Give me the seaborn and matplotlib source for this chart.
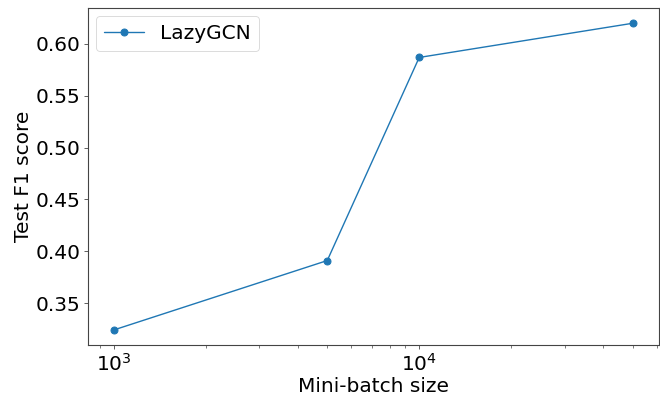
import numpy as np
import pandas as pd
import seaborn as sns
import matplotlib
matplotlib.use("Agg")
import matplotlib.pyplot as plt

batch_sizes = [1000, 5000, 10000, 50000]
f1_scores = [0.324, 0.391, 0.587, 0.620]
series_name = "LazyGCN"

df = pd.DataFrame({"Mini-batch size": batch_sizes, "Test F1 score": f1_scores})

sns.set_style("ticks", rc={"axes.edgecolor": "#444444", "axes.labelcolor": "black",
                           "xtick.color": "#444444", "ytick.color": "#444444",
                           "text.color": "black", "axes.linewidth": 0.7})
plt.rcParams['font.family'] = ['DejaVu Sans']
fs = 14.5
plt.rcParams['xtick.major.pad'] = 2.5
plt.rcParams['ytick.major.pad'] = 2.5
plt.rcParams['xtick.major.size'] = 3
plt.rcParams['ytick.major.size'] = 3
plt.rcParams['xtick.minor.size'] = 1.8
plt.rcParams['xtick.major.width'] = 0.6
plt.rcParams['ytick.major.width'] = 0.6
plt.rcParams['xtick.minor.width'] = 0.5
plt.rcParams['axes.labelpad'] = 1.5

fig, ax = plt.subplots(figsize=(6.6, 3.96), dpi=100)
sns.lineplot(data=df, x="Mini-batch size", y="Test F1 score", marker="o",
             markeredgecolor="#1f77b4", markersize=5, linewidth=1.0,
             color="#1f77b4", label=series_name, ax=ax)
ax.set_xscale("log")
ax.set_xlabel("Mini-batch size", fontsize=fs)
ax.set_ylabel("Test F1 score", fontsize=fs)
ax.tick_params(labelsize=fs, labelcolor="black")
leg = ax.legend(loc="upper left", fontsize=fs, borderaxespad=0.4)
leg.get_frame().set_linewidth(0.6)
fig.subplots_adjust(left=0.133, right=0.998, top=0.98, bottom=0.128)
fig.savefig("out.png", dpi=100)
